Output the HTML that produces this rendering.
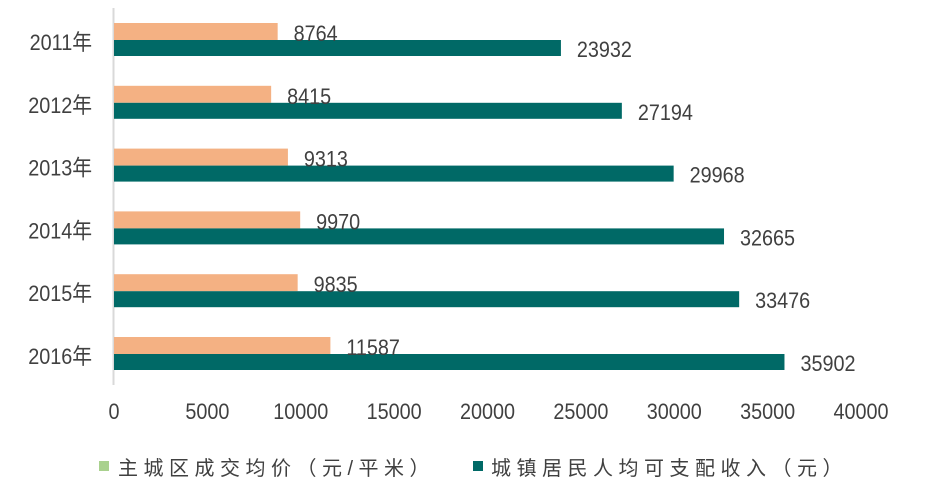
<!DOCTYPE html>
<html><head><meta charset="utf-8"><style>
body{margin:0;background:#fff;width:930px;height:495px;overflow:hidden}
svg text{font-family:"Liberation Sans","Noto Sans CJK SC",sans-serif;fill:#404040}
</style></head><body>
<svg id="chart" width="930" height="495"></svg>
<script>
const categories=["2011年","2012年","2013年","2014年","2015年","2016年"];
const priceValues=[8764,8415,9313,9970,9835,11587];
const incomeValues=[23932,27194,29968,32665,33476,35902];
const xTicks=[0,5000,10000,15000,20000,25000,30000,35000,40000];
const NS="http://www.w3.org/2000/svg";
const svg=document.getElementById('chart');
const x=v=>114+v*(747/40000);
const rowY=i=>23+i*62.8;
const SX=0.9;
function mk(tag,attrs,txt){const e=document.createElementNS(NS,tag);for(const k in attrs)e.setAttribute(k,attrs[k]);if(txt!==undefined)e.textContent=txt;svg.appendChild(e);return e;}
function tx(px,py,anchor,size,txt){return mk('text',{x:px/SX,y:py,'text-anchor':anchor,'font-size':size,transform:'scale('+SX+',1)'},txt);}
let e=mk('line',{x1:113.5,y1:8,x2:113.5,y2:385,stroke:'#d9d9d9','stroke-width':2});


categories.forEach((c,i)=>{
  const y=rowY(i);
  let t=tx(92,y+27,'end',22,c);
  
  
  let b=mk('rect',{x:x(0),y:y,width:x(priceValues[i])-x(0),height:17,fill:'#F4B183'});
  
  
  let b2=mk('rect',{x:x(0),y:y+17,width:x(incomeValues[i])-x(0),height:16,fill:'#006966'});
  
  
  let l1=tx(x(priceValues[i])+16,y+18,'start',22,String(priceValues[i]));
  
  
  let l2=tx(x(incomeValues[i])+16,y+34,'start',22,String(incomeValues[i]));
  
  
});
xTicks.forEach(v=>{
  let t=tx(x(v),419,'middle',22,String(v));
  
  
});
let s1=mk('rect',{x:99,y:461,width:10,height:10,fill:'#A9D18E'});


let lt1=mk('text',{x:118,y:475,'font-size':20,'letter-spacing':'5.5'},'主城区成交均价（元/平米）');


let s2=mk('rect',{x:473,y:461,width:10,height:10,fill:'#006966'});


let lt2=mk('text',{x:491,y:475,'font-size':20,'letter-spacing':'5.5'},'城镇居民人均可支配收入（元）');


</script>
</body></html>
